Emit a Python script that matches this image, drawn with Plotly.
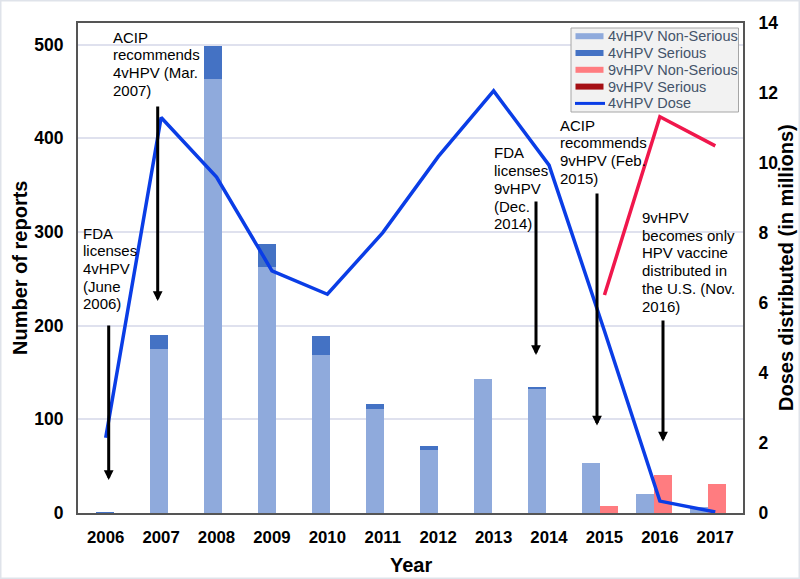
import plotly.graph_objects as go

# ---------------- data ----------------
years = ["2006", "2007", "2008", "2009", "2010", "2011",
         "2012", "2013", "2014", "2015", "2016", "2017"]
v4_nonserious = [0, 175, 463, 263, 169, 111, 67, 143, 133, 53, 20, 6]
v4_serious = [1, 15, 35, 24, 20, 5, 4, 0, 2, 0, 0, 0]
v9_nonserious = [0, 0, 0, 0, 0, 0, 0, 0, 0, 7, 41, 31]
v9_serious = [0, 0, 0, 0, 0, 0, 0, 0, 0, 0, 0, 0]
dose_4v = [2.15, 11.3, 9.6, 6.92, 6.25, 8.01, 10.18, 12.06, 9.94, 5.2, 0.34, 0.03]
dose_9v_years = ["2015", "2016", "2017"]
dose_9v = [6.23, 11.32, 10.49]

legend_names = ["4vHPV Non-Serious", "4vHPV Serious", "9vHPV Non-Serious",
                "9vHPV Serious", "4vHPV Dose"]

notes = [
    (["FDA", "licenses", "4vHPV", "(June", "2006)"], 81, 233, 108.7, 324, 480),
    (["ACIP", "recommends", "4vHPV (Mar.", "2007)"], 111, 37, 157.7, 105, 301),
    (["FDA", "licenses", "9vHPV", "(Dec.", "2014)"], 491.5, 153, 536, 200, 355),
    (["ACIP", "recommends", "9vHPV (Feb.", "2015)"], 557.5, 125, 597, 192, 425.5),
    (["9vHPV", "becomes only", "HPV vaccine", "distributed in",
      "the U.S. (Nov.", "2016)"], 640, 217.5, 663, 319, 441.5),
]

C_4N = "#8faadc"
C_4S = "#4472c4"
C_9N = "#ff7c80"
C_9S = "#a50f15"
C_L4 = "#0a3de6"
C_L9 = "#f0174c"
FONT = "Arial, Liberation Sans, sans-serif"

# plot area geometry in pixels (layout only)
L, R, T, B = 78, 743, 23, 513
W, H = 800, 579


def px(xp):
    return (xp - L) / (R - L)


def py(yp):
    return (B - yp) / (B - T)


fig = go.Figure()

bar_common = dict(xaxis="x", yaxis="y", showlegend=False, marker_line_width=0)
fig.add_trace(go.Bar(x=years, y=v4_nonserious, marker_color=C_4N,
                     offset=-1/3, width=1/3, name=legend_names[0], **bar_common))
fig.add_trace(go.Bar(x=years, y=v4_serious, base=v4_nonserious, marker_color=C_4S,
                     offset=-1/3, width=1/3, name=legend_names[1], **bar_common))
fig.add_trace(go.Bar(x=years, y=v9_nonserious, marker_color=C_9N,
                     offset=0, width=1/3, name=legend_names[2], **bar_common))
fig.add_trace(go.Bar(x=years, y=v9_serious, base=v9_nonserious, marker_color=C_9S,
                     offset=0, width=1/3, name=legend_names[3], **bar_common))

fig.add_trace(go.Scatter(x=years, y=dose_4v, mode="lines", name=legend_names[4],
                         showlegend=False,
                         line=dict(color=C_L4, width=3.5), xaxis="x2", yaxis="y2"))
fig.add_trace(go.Scatter(x=dose_9v_years, y=dose_9v, mode="lines", name="9vHPV Dose",
                         showlegend=False,
                         line=dict(color=C_L9, width=3.5), xaxis="x2", yaxis="y2"))

annotations = []
shapes = []
for lines, tx, ty, ax_, tail, tip in notes:
    for i, t in enumerate(lines):
        annotations.append(dict(
            x=px(tx), y=py(ty + i * 17.7), xref="paper", yref="paper",
            text=t, showarrow=False, xanchor="left", yanchor="middle",
            font=dict(family=FONT, size=15, color="#000000")))
    annotations.append(dict(
        x=px(ax_), y=py(tip), xref="paper", yref="paper",
        ax=0, ay=-(tip - tail), axref="pixel", ayref="pixel",
        text="", showarrow=True, arrowhead=2, arrowsize=0.65, arrowwidth=3,
        arrowcolor="#000000", standoff=0, startstandoff=0))

# axis titles
annotations.append(dict(x=px(20), y=py(268), xref="paper", yref="paper",
                        text="<b>Number of reports</b>", textangle=-90, showarrow=False,
                        font=dict(family=FONT, size=20, color="#000"),
                        xanchor="center", yanchor="middle"))
annotations.append(dict(x=px(786), y=py(268), xref="paper", yref="paper",
                        text="<b>Doses distributed (in millions)</b>", textangle=-90,
                        showarrow=False, font=dict(family=FONT, size=20, color="#000"),
                        xanchor="center", yanchor="middle"))
annotations.append(dict(x=px(410.5), y=py(565), xref="paper", yref="paper",
                        text="<b>Year</b>", showarrow=False,
                        font=dict(family=FONT, size=20, color="#000"),
                        xanchor="center", yanchor="middle"))

# legend box (drawn to match the original's compact spacing)
shapes.append(dict(type="rect", xref="paper", yref="paper",
                   x0=px(571), x1=px(738.5), y0=py(112), y1=py(28),
                   line=dict(color="#a6a6a6", width=1), fillcolor="#f2f2f2"))
leg_colors = [C_4N, C_4S, C_9N, C_9S, C_L4]
for i, (name, col) in enumerate(zip(legend_names, leg_colors)):
    yc = 36.2 + i * 16.8
    if i < 4:
        shapes.append(dict(type="rect", xref="paper", yref="paper",
                           x0=px(575.5), x1=px(603.5), y0=py(yc + 3), y1=py(yc - 3),
                           line=dict(width=0), fillcolor=col))
    else:
        shapes.append(dict(type="line", xref="paper", yref="paper",
                           x0=px(575), x1=px(605), y0=py(yc), y1=py(yc),
                           line=dict(color=col, width=3)))
    annotations.append(dict(x=px(605.5), y=py(yc), xref="paper", yref="paper",
                            text=name, showarrow=False, xanchor="left",
                            yanchor="middle",
                            font=dict(family=FONT, size=14.5, color="#44546a")))

# light outer border of the picture
shapes.append(dict(type="rect", xref="paper", yref="paper",
                   x0=px(0.75), x1=px(799.25), y0=py(578.25), y1=py(0.75),
                   line=dict(color="#dfe3ea", width=1.5),
                   fillcolor="rgba(0,0,0,0)", layer="below"))

fig.update_layout(
    width=W, height=H,
    margin=dict(l=L, r=W - R, t=T, b=H - B, pad=0),
    paper_bgcolor="white", plot_bgcolor="white",
    barmode="overlay", bargap=0, showlegend=False,
    font=dict(family=FONT, color="#000"),
    xaxis=dict(type="category", range=[-0.667, 11.648], showgrid=False,
               showline=True, linecolor="#555555", linewidth=2, mirror=True,
               ticks="", showticklabels=False),
    xaxis2=dict(type="category", overlaying="x", anchor="y2", side="bottom",
                range=[-0.5, 11.5], showgrid=False, showline=False, zeroline=False,
                ticks="", ticklabelstandoff=12,
                tickfont=dict(family=FONT, size=16.8, color="#000", weight="bold")),
    yaxis=dict(range=[0, 523], tickvals=[0, 100, 200, 300, 400, 500],
               showgrid=True, gridcolor="#dfe1ee", gridwidth=1.5,
               showline=True, linecolor="#555555", linewidth=2, mirror=True,
               zeroline=False, ticks="", ticklabelstandoff=9,
               tickfont=dict(family=FONT, size=17.5, color="#000", weight="bold")),
    yaxis2=dict(range=[0, 14], tickvals=[0, 2, 4, 6, 8, 10, 12, 14],
                overlaying="y", anchor="x2", side="right", showgrid=False,
                zeroline=False, showline=True, linecolor="#555555", linewidth=2,
                ticks="", ticklabelstandoff=10,
                tickfont=dict(family=FONT, size=17.5, color="#000", weight="bold")),
    annotations=annotations,
    shapes=shapes,
)

fig.write_html("out.html", config={"displayModeBar": False},
               post_script="document.body.style.margin='0';document.body.style.padding='0';")
